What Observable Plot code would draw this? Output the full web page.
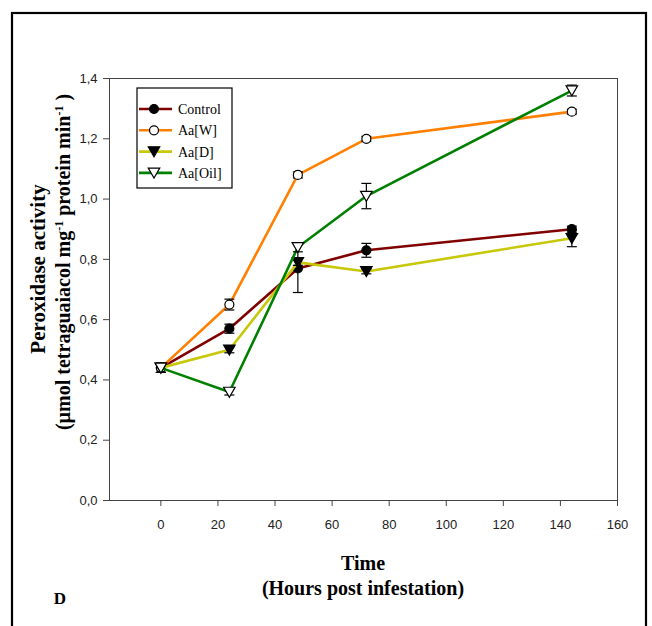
<!DOCTYPE html>
<html>
<head>
<meta charset="utf-8">
<script src="https://cdn.jsdelivr.net/npm/d3@7"></script>
<script src="https://cdn.jsdelivr.net/npm/@observablehq/plot@0.6"></script>
<style>
  html, body { margin: 0; padding: 0; background: white; }
</style>
</head>
<body>
<div id="chart"></div>
<script>
// ---- data ----
const hours = [0, 24, 48, 72, 144];
const seriesNames = ["Control", "Aa[W]", "Aa[D]", "Aa[Oil]"];
const control    = [0.44, 0.57, 0.77, 0.83, 0.90];
const controlErr = [0.015, 0.015, 0.08, 0.023, 0.01];
const aaW        = [0.44, 0.65, 1.08, 1.20, 1.29];
const aaWErr     = [0.015, 0.018, 0.01, 0.008, 0.008];
const aaD        = [0.44, 0.50, 0.79, 0.76, 0.87];
const aaDErr     = [0.015, 0.01, 0.01, 0.008, 0.028];
const aaOil      = [0.44, 0.36, 0.84, 1.01, 1.36];
const aaOilErr   = [0.015, 0.01, 0.015, 0.042, 0.018];
const xTicks = [0, 20, 40, 60, 80, 100, 120, 140, 160];
const yTicks = [0, 0.2, 0.4, 0.6, 0.8, 1.0, 1.2, 1.4];

const lineColors = ["#800000", "#ff8000", "#c8c80a", "#008000"];
const markerFill = ["black", "white", "black", "white"];

// custom symbols
const triangleDown = {
  draw(context, size) {
    const r = Math.sqrt(size / Math.PI);
    context.moveTo(-1.15 * r, -0.95 * r);
    context.lineTo(1.15 * r, -0.95 * r);
    context.lineTo(0, 1.05 * r);
    context.closePath();
  }
};
const hbar = {
  draw(context, size) {
    const r = Math.sqrt(size / Math.PI);
    context.moveTo(-r, 0);
    context.lineTo(r, 0);
  }
};
const markerSymbols = ["circle", "circle", triangleDown, triangleDown];

const valueSets = [control, aaW, aaD, aaOil];
const errSets = [controlErr, aaWErr, aaDErr, aaOilErr];
const series = seriesNames.map((name, i) =>
  hours.map((t, j) => ({series: name, t, v: valueSets[i][j], e: errSets[i][j]}))
);

const marks = [
  Plot.frame({stroke: "#444", strokeWidth: 1}),
  Plot.axisX({ticks: xTicks, tickSize: 6, tickPadding: 13, label: null, stroke: "#444", fill: "#222"}),
  Plot.axisY({ticks: yTicks, tickFormat: d => d.toFixed(1).replace(".", ","), tickSize: 6, tickPadding: 6, label: null, stroke: "#444", fill: "#222"})
];
series.forEach((data, i) => {
  marks.push(
    Plot.line(data, {x: "t", y: "v", stroke: lineColors[i], strokeWidth: 2.6}),
    Plot.ruleX(data, {x: "t", y1: d => d.v - d.e, y2: d => d.v + d.e, stroke: "black", strokeWidth: 1.2}),
    Plot.dot(data, {x: "t", y: d => d.v - d.e, symbol: hbar, r: 5, stroke: "black", strokeWidth: 1.2}),
    Plot.dot(data, {x: "t", y: d => d.v + d.e, symbol: hbar, r: 5, stroke: "black", strokeWidth: 1.2}),
    Plot.dot(data, {x: "t", y: "v", symbol: markerSymbols[i], r: i < 2 ? 4.5 : 5, fill: markerFill[i], stroke: "black", strokeWidth: 1.2})
  );
});

const svg = Plot.plot({
  width: 652,
  height: 626,
  marginLeft: 109,
  marginRight: 35,
  marginTop: 78,
  marginBottom: 126,
  style: {fontFamily: "'Liberation Sans', Arial, sans-serif", fontSize: "13px", background: "white", overflow: "visible"},
  x: {domain: [-18, 160]},
  y: {domain: [0, 1.4]},
  marks
});

const s = d3.select(svg);
// outer box
s.append("rect")
  .attr("x", 12).attr("y", 13).attr("width", 634).attr("height", 660)
  .attr("fill", "none").attr("stroke", "black").attr("stroke-width", 2.2);

const serif = "'Liberation Serif', 'Times New Roman', serif";

// y-axis title
s.append("text")
  .attr("transform", "translate(38,269) rotate(-90)")
  .attr("text-anchor", "middle").attr("dy", "0.35em")
  .attr("font-family", serif).attr("font-weight", "bold").attr("font-size", 21)
  .attr("fill", "black")
  .text("Peroxidase activity");
const y2 = s.append("text")
  .attr("transform", "translate(63,262) rotate(-90)")
  .attr("text-anchor", "middle").attr("dy", "0.35em")
  .attr("font-family", serif).attr("font-weight", "bold").attr("font-size", 20)
  .attr("fill", "black");
y2.append("tspan").text("(\u00b5mol tetraguaiacol mg");
y2.append("tspan").attr("baseline-shift", "super").attr("font-size", 12).text("-1");
y2.append("tspan").text(" protein min");
y2.append("tspan").attr("baseline-shift", "super").attr("font-size", 12).text("-1");
y2.append("tspan").text(" )");

// x-axis title
s.append("text").attr("x", 363).attr("y", 563).attr("dy", "0.35em")
  .attr("text-anchor", "middle")
  .attr("font-family", serif).attr("font-weight", "bold").attr("font-size", 20)
  .text("Time");
s.append("text").attr("x", 363).attr("y", 588).attr("dy", "0.35em")
  .attr("text-anchor", "middle")
  .attr("font-family", serif).attr("font-weight", "bold").attr("font-size", 20)
  .text("(Hours post infestation)");
s.append("text").attr("x", 60).attr("y", 598).attr("dy", "0.35em")
  .attr("text-anchor", "middle")
  .attr("font-family", serif).attr("font-weight", "bold").attr("font-size", 17)
  .text("D");

// legend
const lg = s.append("g");
lg.append("rect").attr("x", 137).attr("y", 88).attr("width", 95).attr("height", 100)
  .attr("fill", "white").attr("stroke", "black").attr("stroke-width", 1.2);
seriesNames.forEach((name, i) => {
  const yy = 109 + i * 21.3;
  lg.append("line").attr("x1", 139).attr("x2", 172).attr("y1", yy).attr("y2", yy)
    .attr("stroke", lineColors[i]).attr("stroke-width", 2.6);
  const sym = markerSymbols[i] === "circle" ? d3.symbolCircle : markerSymbols[i];
  const r = i < 2 ? 4.5 : 5;
  lg.append("path").attr("d", d3.symbol(sym, r * r * Math.PI)())
    .attr("transform", `translate(154,${yy})`)
    .attr("fill", markerFill[i]).attr("stroke", "black").attr("stroke-width", 1.2);
  lg.append("text").attr("x", 178).attr("y", yy).attr("dy", "0.35em")
    .attr("text-anchor", "start")
    .attr("font-family", serif).attr("font-size", 14).attr("fill", "black")
    .text(name);
});

document.getElementById("chart").appendChild(svg);
</script>
</body>
</html>
